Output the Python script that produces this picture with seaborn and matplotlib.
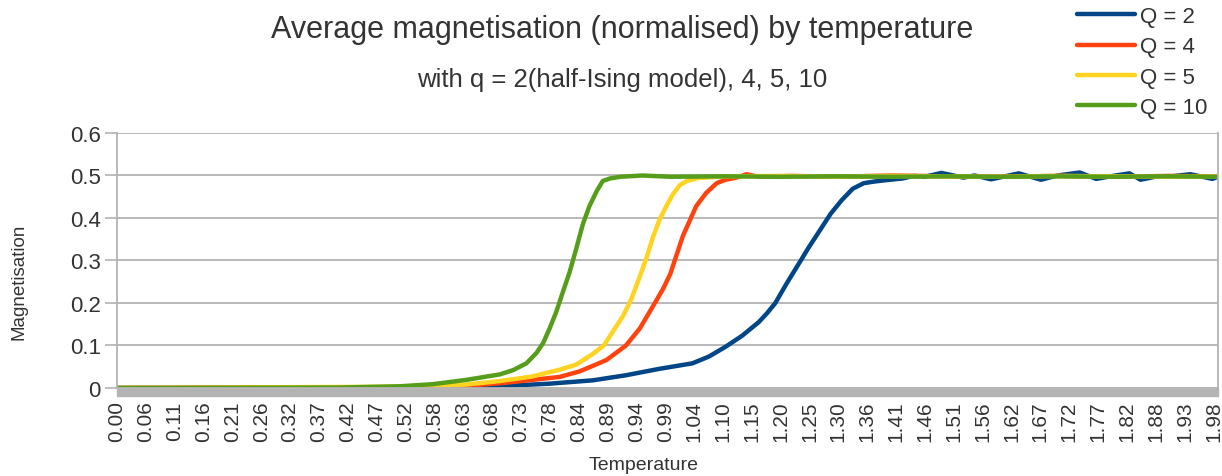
import numpy as np
import pandas as pd
import matplotlib
matplotlib.use("Agg")
import matplotlib.pyplot as plt
from matplotlib.patches import Rectangle
from matplotlib.ticker import MultipleLocator, FixedLocator
import seaborn as sns

# values
series_names = ["Q = 2", "Q = 4", "Q = 5", "Q = 10"]
colors = ["#004586", "#ff420e", "#ffd320", "#579d1c"]

t_q2 = [0.00, 0.45, 0.60, 0.70, 0.78, 0.86, 0.92, 0.98, 1.04, 1.07, 1.10, 1.13, 1.16, 1.175, 1.19,
        1.21, 1.235, 1.25, 1.27, 1.29, 1.31, 1.33, 1.35, 1.37, 1.39, 1.42, 1.44, 1.46, 1.49,
        1.53, 1.55, 1.58, 1.63, 1.67, 1.70, 1.74, 1.77, 1.80, 1.83, 1.85, 1.88, 1.90, 1.94,
        1.98, 1.99]
m_q2 = [0.000, 0.000, 0.002, 0.005, 0.010, 0.018, 0.030, 0.045, 0.058, 0.074, 0.097, 0.123, 0.155, 0.176, 0.200,
        0.245, 0.298, 0.330, 0.370, 0.410, 0.442, 0.469, 0.482, 0.486, 0.489, 0.493, 0.499, 0.497, 0.506,
        0.495, 0.500, 0.491, 0.505, 0.490, 0.500, 0.507, 0.492, 0.499, 0.505, 0.490, 0.498, 0.497, 0.503,
        0.492, 0.497]

t_q4 = [0.00, 0.50, 0.63, 0.70, 0.75, 0.80, 0.836, 0.86, 0.885, 0.92, 0.945, 0.97, 0.987, 1.00,
        1.011, 1.023, 1.035, 1.047, 1.065, 1.084, 1.10, 1.12, 1.138, 1.16, 1.22, 1.30, 1.40,
        1.50, 1.60, 1.70, 1.80, 1.90, 1.99]
m_q4 = [0.000, 0.002, 0.005, 0.012, 0.019, 0.026, 0.039, 0.052, 0.066, 0.100, 0.140, 0.195, 0.233, 0.268,
        0.311, 0.358, 0.393, 0.428, 0.459, 0.482, 0.490, 0.495, 0.503, 0.497, 0.499, 0.497, 0.500,
        0.498, 0.497, 0.499, 0.497, 0.499, 0.498]

t_q5 = [0.00, 0.50, 0.63, 0.69, 0.75, 0.80, 0.83, 0.86, 0.88, 0.90, 0.915, 0.93, 0.945, 0.957,
        0.969, 0.981, 0.993, 1.005, 1.017, 1.03, 1.05, 1.10, 1.20, 1.30, 1.40, 1.50, 1.60,
        1.70, 1.80, 1.90, 1.99]
m_q5 = [0.000, 0.003, 0.008, 0.016, 0.027, 0.043, 0.055, 0.080, 0.100, 0.140, 0.170, 0.210, 0.262, 0.306,
        0.356, 0.397, 0.428, 0.456, 0.477, 0.487, 0.494, 0.498, 0.499, 0.497, 0.499, 0.498, 0.497,
        0.499, 0.498, 0.497, 0.498]

t_q10 = [0.00, 0.40, 0.511, 0.571, 0.631, 0.692, 0.716, 0.740, 0.758, 0.770, 0.782, 0.794, 0.806,
         0.818, 0.830, 0.842, 0.854, 0.867, 0.878, 0.891, 0.91, 0.95, 1.00, 1.10, 1.20, 1.30,
         1.40, 1.50, 1.60, 1.70, 1.80, 1.90, 1.99]
m_q10 = [0.000, 0.001, 0.004, 0.009, 0.019, 0.032, 0.042, 0.058, 0.082, 0.105, 0.140, 0.179, 0.226,
         0.272, 0.327, 0.385, 0.428, 0.463, 0.487, 0.493, 0.497, 0.500, 0.497, 0.498, 0.497, 0.498,
         0.497, 0.498, 0.497, 0.498, 0.497, 0.498, 0.497]

x_tick_labels = ["0.00", "0.06", "0.11", "0.16", "0.21", "0.26", "0.32", "0.37", "0.42", "0.47",
                 "0.52", "0.58", "0.63", "0.68", "0.73", "0.78", "0.84", "0.89", "0.94", "0.99",
                 "1.04", "1.10", "1.15", "1.20", "1.25", "1.30", "1.36", "1.41", "1.46", "1.51",
                 "1.56", "1.62", "1.67", "1.72", "1.77", "1.82", "1.88", "1.93", "1.98"]
y_ticks = [0, 0.1, 0.2, 0.3, 0.4, 0.5, 0.6]
y_tick_labels = ["0", "0.1", "0.2", "0.3", "0.4", "0.5", "0.6"]

frames = []
for name, t, m in zip(series_names, [t_q2, t_q4, t_q5, t_q10], [m_q2, m_q4, m_q5, m_q10]):
    frames.append(pd.DataFrame({"Temperature": t, "Magnetisation": m, "series": name}))
df = pd.concat(frames, ignore_index=True)

sns.set_style("white")
plt.rcParams["font.family"] = ["Liberation Sans", "DejaVu Sans"]

grey = "#b3b3b3"
txt = "#333333"

fig = plt.figure(figsize=(12.22, 4.77), dpi=100)
ax = fig.add_axes([0.0957, 0.1845, 0.9010, 0.5346])

sns.lineplot(data=df, x="Temperature", y="Magnetisation", hue="series",
             palette=dict(zip(series_names, colors)), linewidth=3.2, ax=ax, legend=True,
             estimator=None, sort=False)

ax.set_xlim(0, 1.99)
ax.set_ylim(0, 0.6)

# tick labels spread evenly along the category axis
step = 1.9817 / (len(x_tick_labels) - 1)
ax.xaxis.set_major_locator(FixedLocator([i * step for i in range(len(x_tick_labels))]))
ax.set_xticklabels(x_tick_labels, rotation=90, fontsize=15, color=txt)
ax.xaxis.set_minor_locator(MultipleLocator(0.0908, offset=0.0769))
ax.tick_params(axis="x", which="major", length=0, pad=9)
ax.tick_params(axis="x", which="minor", length=5.8, width=1.3, color="white", direction="out")

ax.set_yticks(y_ticks)
ax.set_yticklabels(y_tick_labels, fontsize=16, color=txt)
ax.tick_params(axis="y", length=8.5, width=1.2, color=grey, pad=3, left=True)

ax.yaxis.grid(True, color=grey, linewidth=1.3)
ax.xaxis.grid(False)
ax.set_axisbelow(True)
for side in ["left", "right", "bottom"]:
    ax.spines[side].set_color(grey)
    ax.spines[side].set_linewidth(1.3)
ax.spines["top"].set_visible(False)

# grey tick band below the axis
ax.add_patch(Rectangle((0, -0.033), 1, 0.029, transform=ax.transAxes, color=grey,
                       clip_on=False, zorder=0.5))

ax.set_xlabel("Temperature", fontsize=14, color=txt)
ax.xaxis.set_label_coords(0.478, -0.265)
ax.set_ylabel("Magnetisation", fontsize=13.5, color=txt)
ax.yaxis.set_label_coords(-0.081, 0.42)

fig.text(0.509, 0.937, "Average magnetisation (normalised) by temperature", ha="center",
         va="center", fontsize=22, color=txt)
fig.text(0.509, 0.832, "with q = 2(half-Ising model), 4, 5, 10", ha="center", va="center",
         fontsize=18.5, color=txt)

ax.legend(loc="upper left", bbox_to_anchor=(1077 / 1222, 1 - 7 / 477), bbox_transform=fig.transFigure,
          frameon=False, fontsize=16, handlelength=2.6, handletextpad=0.22, labelspacing=0.42,
          borderaxespad=0, borderpad=0, labelcolor=txt)

fig.savefig("out.png", dpi=100)
